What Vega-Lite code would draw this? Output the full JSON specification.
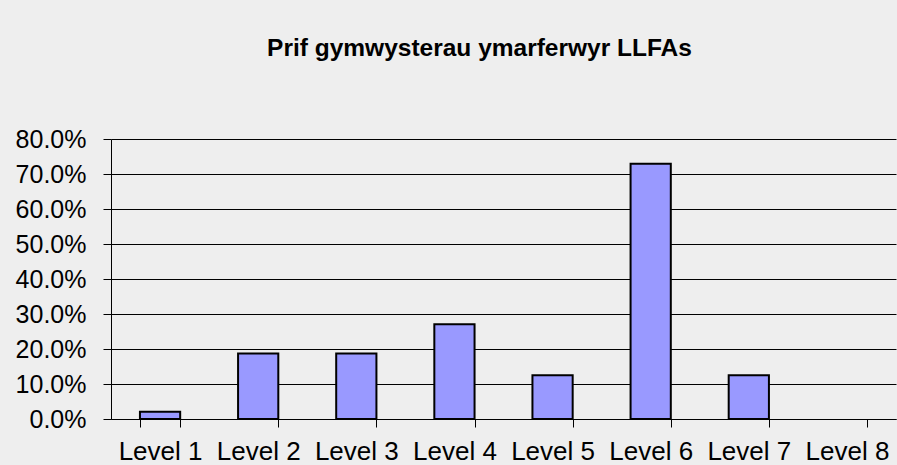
{
  "$schema": "https://vega.github.io/schema/vega-lite/v6.json",
  "autosize": {"type": "none"},
  "width": 785,
  "height": 280,
  "padding": {"left": 111, "top": 139, "right": 1, "bottom": 46},
  "background": "#eeeeee",
  "title": {
    "text": "Prif gymwysterau ymarferwyr LLFAs",
    "font": "Liberation Sans",
    "fontSize": 24.5,
    "fontWeight": "bold",
    "color": "black",
    "anchor": "middle",
    "dx": -24,
    "offset": 66
  },
  "data": {
    "values": [
      {"level": "Level 1", "share": 0.0208},
      {"level": "Level 2", "share": 0.1875},
      {"level": "Level 3", "share": 0.1875},
      {"level": "Level 4", "share": 0.2708},
      {"level": "Level 5", "share": 0.125},
      {"level": "Level 6", "share": 0.7292},
      {"level": "Level 7", "share": 0.125},
      {"level": "Level 8", "share": 0}
    ]
  },
  "mark": {"type": "bar", "fill": "#9999ff", "stroke": "black", "strokeWidth": 2},
  "encoding": {
    "x": {
      "field": "level",
      "type": "nominal",
      "sort": null,
      "scale": {"paddingInner": 0.59, "paddingOuter": 0.295},
      "axis": {
        "title": null,
        "labelAngle": 0,
        "tickBand": "extent",
        "tickSize": 8,
        "tickColor": "black",
        "domainColor": "black",
        "labelFont": "Liberation Sans",
        "labelFontSize": 26,
        "labelColor": "black",
        "labelPadding": 11,
        "grid": false
      }
    },
    "y": {
      "field": "share",
      "type": "quantitative",
      "scale": {"domain": [0, 0.8], "nice": false},
      "axis": {
        "title": null,
        "format": ".1%",
        "values": [0, 0.1, 0.2, 0.3, 0.4, 0.5, 0.6, 0.7, 0.8],
        "tickSize": 8,
        "tickColor": "black",
        "domainColor": "black",
        "gridColor": "black",
        "gridOpacity": 1,
        "labelFont": "Liberation Sans",
        "labelFontSize": 25,
        "labelColor": "black",
        "labelPadding": 17
      }
    },
    "strokeOpacity": {"condition": {"test": "datum.share == 0", "value": 0}, "value": 1}
  },
  "config": {"view": {"stroke": null}, "axis": {"domainWidth": 1, "tickWidth": 1, "gridWidth": 1}}
}
